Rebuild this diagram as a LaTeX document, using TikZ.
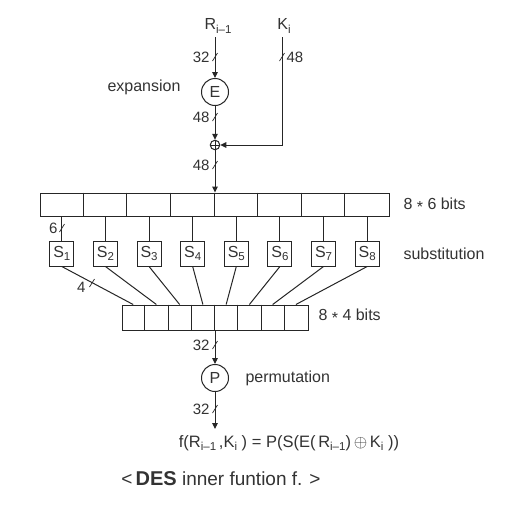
\documentclass[tikz,border=0pt]{standalone}
\usepackage{fontspec}
\setmainfont{Liberation Sans}
\usetikzlibrary{arrows.meta,calc}
\newcommand\dn[1]{\raisebox{-0.45ex}{\fontsize{11.5}{12}\selectfont #1}}
\newcommand\tk[1]{\draw[line width=0.7pt] ($(#1)+(-2.5,4)$) -- ($(#1)+(2.5,-4)$);}
\begin{document}
\begin{tikzpicture}[x=1pt,y=-1pt, line width=1pt, draw=black!85,
  every node/.style={font=\fontsize{16}{18}\selectfont, text=black!80},
  arr/.style={-{Triangle[length=6pt,width=5.5pt]}},
  cir/.style={circle,draw,minimum size=27pt,inner sep=0pt},
  sbox/.style={draw,minimum width=24pt,minimum height=25pt,inner sep=0pt},
  num/.style={anchor=east,inner sep=1pt,font=\fontsize{15}{17}\selectfont},
  side/.style={anchor=west,inner sep=0pt}]
\useasboundingbox (0,0) rectangle (508,504);
\fill[white] (0,0) rectangle (508,504);

% inputs
\node (rlab) at (218,26) {R\dn{i–1}};
\node (klab) at (284,26) {K\dn{i}};
\coordinate (rtop) at (215,37);
\coordinate (ktop) at (282,37);

% expansion
\node[cir] (E) at (215,92) {E};
\node[side] (explab) at (107,87) {expansion};

% xor
\node[circle,draw,minimum size=9.5pt,inner sep=0pt] (xor) at (215,145) {};
\draw[line width=0.7pt] (xor.north) -- (xor.south) (xor.west) -- (xor.east);

% 8*6 bar
\node[draw,minimum width=349pt,minimum height=23pt,inner sep=0pt] (bar6) at (214.5,204.5) {};
\foreach \i in {1,...,7} \draw ($(bar6.north west)+(43.625*\i,0)$) -- ($(bar6.south west)+(43.625*\i,0)$);
\node[side] (lab6) at (403,205) {8 \raisebox{-0.3ex}{*} 6 bits};

% S boxes
\foreach \i in {1,...,8} {
  \node[sbox] (s\i) at ({61.8+43.625*(\i-1)},253.5) {S\dn{\i}};
  \draw (s\i.north) -- (s\i.north |- bar6.south);
}
\node[side] (sublab) at (403,254) {substitution};

% 8*4 bar
\node[draw,minimum width=186pt,minimum height=25pt,inner sep=0pt] (bar4) at (215,317.5) {};
\foreach \i in {1,...,7} \draw ($(bar4.north west)+(23.25*\i,0)$) -- ($(bar4.south west)+(23.25*\i,0)$);
\foreach \i in {1,...,8} {
  \coordinate (c\i) at ($(bar4.north west)+({23.25*\i-11.6},0)$);
  \draw (s\i.south) -- (c\i);
}
\node[side] (lab4) at (318,316) {8 \raisebox{-0.3ex}{*} 4 bits};

% permutation
\node[cir] (P) at (215,378) {P};
\node[side] (permlab) at (245,378) {permutation};
\coordinate (out) at (215,429);

% connectors
\draw[arr] (rtop) -- (E.north);
\draw[arr] (ktop) |- (xor.east);
\draw[arr] (E.south) -- (xor.north);
\draw[arr] (xor.south) -- (xor.south |- bar6.north);
\draw[arr] (bar4.south) -- (P.north);
\draw[arr] (P.south) -- (out);

% bit-width ticks
\tk{215,57}   \node[num] (n1) at (211,57) {32};
\tk{282,57}   \node[num,anchor=west] (n2) at (285,57) {48};
\tk{215,117}  \node[num] (n3) at (211,117) {48};
\tk{215,165}  \node[num] (n4) at (211,165) {48};
\tk{62,228}   \node[num] (n5) at (59,228) {6};
\tk{92,283}   \node[num] (n6) at (87,287) {4};
\tk{215,345}  \node[num] (n7) at (211,345) {32};
\tk{215,409}  \node[num] (n8) at (211,409) {32};

% formula and caption
\node[font=\fontsize{16.5}{18}\selectfont] (formula) at (289,443) {f(R\dn{i–1}\,,K\dn{i} ) = P(S(E(\,R\dn{i–1})\,$\oplus$\,K\dn{i} ))};
\node[font=\fontsize{19}{22}\selectfont] (caption) at (221,479) {<\,{\bfseries\fontsize{20}{22}\selectfont DES} inner funtion f. >};
\end{tikzpicture}
\end{document}
